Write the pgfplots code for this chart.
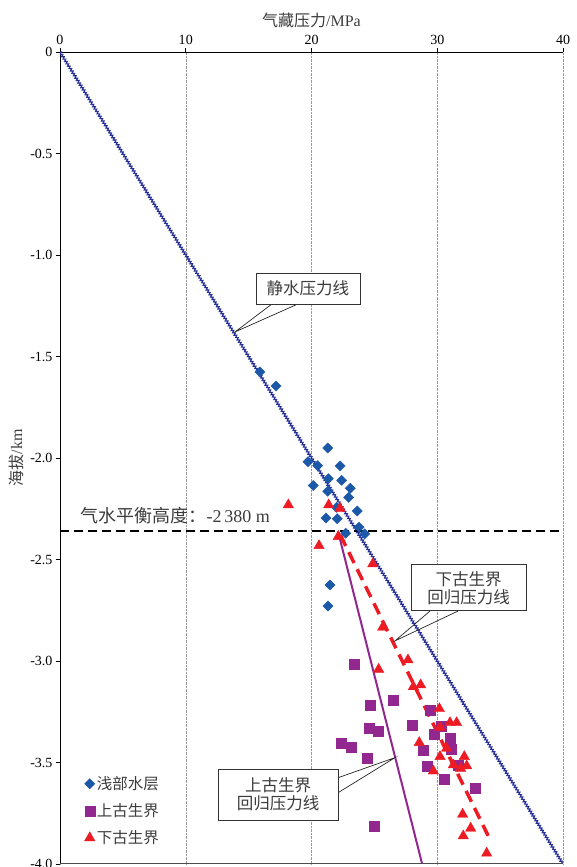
\documentclass[border=0pt]{standalone}
\usepackage{fontspec}
\setmainfont{Liberation Serif}
\newfontfamily\cjk{Noto Sans CJK SC}
\usepackage{pgfplots}
\usepackage{pgfplotstable}
\pgfplotsset{compat=1.18}
\usetikzlibrary{decorations.pathmorphing}
\definecolor{dblue}{RGB}{28,88,168}
\definecolor{hblue}{RGB}{38,48,150}
\definecolor{mpurple}{RGB}{146,39,143}
\definecolor{mred}{RGB}{237,28,36}
\definecolor{txt}{RGB}{60,60,60}

\pgfplotstableread{
P z
15.90 -1.576
17.18 -1.645
21.29 -1.951
19.72 -2.018
20.49 -2.038
22.27 -2.039
21.34 -2.102
22.40 -2.110
20.14 -2.136
23.09 -2.149
21.29 -2.164
22.96 -2.194
22.00 -2.243
23.64 -2.261
21.15 -2.296
22.05 -2.299
23.78 -2.341
22.72 -2.371
24.23 -2.374
21.47 -2.626
21.31 -2.729
}\tabShallow

\pgfplotstableread{
P z
23.38 -3.016
26.53 -3.192
24.65 -3.218
24.62 -3.330
25.29 -3.348
22.40 -3.406
23.17 -3.427
24.41 -3.481
24.97 -3.816
29.45 -3.240
27.99 -3.317
30.35 -3.322
29.77 -3.360
31.01 -3.379
31.07 -3.433
28.89 -3.440
29.21 -3.517
31.70 -3.512
30.56 -3.580
33.03 -3.629
}\tabUpper

\pgfplotstableread{
P z
18.16 -2.231
21.37 -2.231
22.27 -2.248
22.13 -2.387
20.60 -2.432
24.87 -2.522
25.66 -2.834
27.67 -2.995
25.34 -3.041
28.10 -3.127
28.68 -3.118
30.17 -3.235
31.01 -3.304
31.54 -3.304
30.22 -3.327
28.57 -3.402
30.75 -3.430
30.22 -3.471
32.15 -3.471
31.28 -3.512
32.34 -3.517
31.86 -3.529
29.69 -3.542
32.02 -3.755
32.66 -3.824
32.07 -3.862
33.93 -3.947
}\tabLower

\begin{document}
\begin{tikzpicture}
\useasboundingbox (-60pt,-3pt) rectangle (516pt,864pt);
\begin{axis}[
  at={(0pt,0pt)}, anchor=south west,
  width=503pt, height=812pt, scale only axis,
  xmin=0, xmax=40, ymin=-4, ymax=0,
  axis x line*=top, axis y line*=left,
  axis line style={black, line width=0.7pt},
  xtick={0,10,20,30,40},
  ytick={0,-0.5,-1,-1.5,-2,-2.5,-3,-3.5,-4},
  yticklabels={0,-0.5,-1.0,-1.5,-2.0,-2.5,-3.0,-3.5,-4.0},
  xmajorgrids, grid style={densely dotted, gray!80},
  tick align=outside, major tick length=4pt,
  tick style={black, line width=0.6pt},
  tick label style={font=\fontsize{14}{16}\selectfont, text=black},
  /pgf/number format/assume math mode=true,
  xlabel={{\cjk 气藏压力}/MPa},
  xlabel style={font=\fontsize{16}{18}\selectfont, text=txt},
  ylabel={{\cjk 海拔}/km},
  ylabel style={font=\fontsize{16}{18}\selectfont, text=txt},
  legend style={at={(axis cs:1.7,-3.548)}, anchor=north west, draw=none, fill=none,
    font=\cjk\fontsize{15.5}{17}\selectfont, text=txt, row sep=8.5pt},
  legend cell align=left,
]
% hydrostatic pressure line
\addplot[hblue, line width=1.2pt, decorate,
  decoration={zigzag, segment length=2.8pt, amplitude=1.1pt}, forget plot]
  coordinates {(0,0) (40,-4)};
% regression lines
\addplot[mpurple, line width=2pt, forget plot] coordinates {(22.1,-2.36) (28.8,-4.0)};
\addplot[mred, line width=3.5pt, dash pattern=on 12pt off 7pt, forget plot]
  coordinates {(22.3,-2.38) (34.2,-3.88)};

\addplot[only marks, mark=square*, mark size=3.6pt, mark options={rotate=45, fill=dblue, draw=dblue}]
  table[x=P, y=z] {\tabShallow};
\addlegendentry{浅部水层}
\addplot[only marks, mark=square*, mark size=5pt, mark options={fill=mpurple, draw=mpurple}]
  table[x=P, y=z] {\tabUpper};
\addlegendentry{上古生界}
\addplot[only marks, mark=triangle*, mark size=6pt, mark options={fill=mred, draw=mred}]
  table[x=P, y=z] {\tabLower};
\addlegendentry{下古生界}

% gas-water equilibrium level
\addplot[black, line width=2.5pt, dash pattern=on 9pt off 5pt, forget plot]
  coordinates {(0,-2.36) (40,-2.36)};

% bottom frame line
\draw[gray!60!black, line width=1.2pt] (rel axis cs:0,0) -- (rel axis cs:1,0);

% annotations
\node[anchor=base west, font=\fontsize{18}{20}\selectfont, text=txt]
  at (axis cs:1.35,-2.318) {{\cjk 气水平衡高度：}-2\,380 m};

\draw[black!85, line width=0.7pt] (axis cs:16.86,-1.241) -- (axis cs:13.92,-1.379) -- (axis cs:18.93,-1.241);
\node[draw=black!80, fill=white, line width=0.9pt, font=\cjk\fontsize{16.5}{18}\selectfont, text=txt,
  minimum width=104pt, minimum height=31pt, inner sep=2pt]
  at (axis cs:19.72,-1.165) {静水压力线};

\draw[black!85, line width=0.7pt] (axis cs:29.42,-2.754) -- (axis cs:26.64,-2.901) -- (axis cs:31.65,-2.754);
\node[draw=black!80, fill=white, line width=0.9pt, font=\cjk\fontsize{16.5}{18}\selectfont, text=txt,
  minimum width=115pt, minimum height=46pt, inner sep=2pt, align=center]
  at (axis cs:32.49,-2.640) {下古生界\\回归压力线};

\draw[black!85, line width=0.7pt] (axis cs:22.11,-3.575) -- (axis cs:26.64,-3.476) -- (axis cs:22.11,-3.649);
\node[draw=black!80, fill=white, line width=0.9pt, font=\cjk\fontsize{16.5}{18}\selectfont, text=txt,
  minimum width=120pt, minimum height=51pt, inner sep=2pt, align=center]
  at (axis cs:17.34,-3.658) {上古生界\\回归压力线};
\end{axis}
\end{tikzpicture}
\end{document}
